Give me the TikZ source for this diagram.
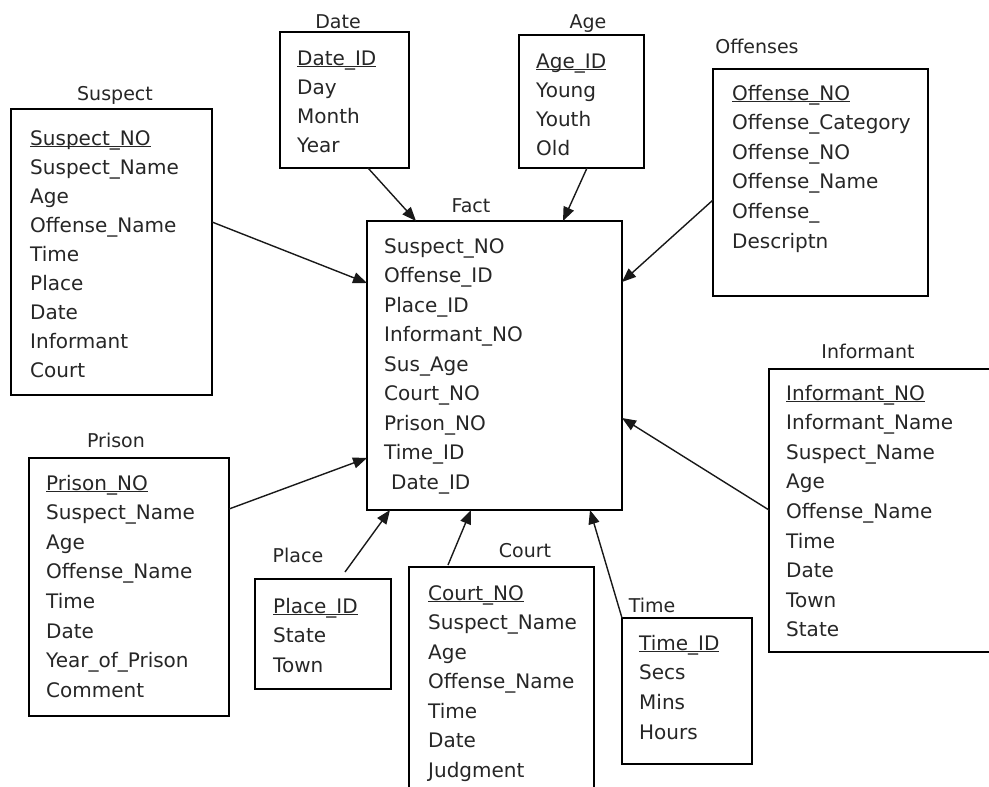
\documentclass[tikz,border=0pt]{standalone}
\usepackage{fontspec}
\setmainfont{DejaVu Sans}
\usetikzlibrary{arrows.meta,calc}
\newcommand\keyfield[1]{\setbox0\hbox{#1}\rlap{\rule[-2.2pt]{\wd0}{1.2pt}}\box0}
\newcommand\fieldlist[5]{%
  \foreach \t [count=\i from 0] in {#5}
    \node[fieldtext] (#1-\i) at (#2,{#3+\i*#4}) {\t};}
\tikzset{
  entitybox/.style={draw=black, line width=1.4pt, inner sep=0pt, outer sep=0pt, anchor=north west},
  fieldtext/.style={anchor=base west, inner sep=0pt, text=black!85, font=\fontsize{20}{24}\selectfont},
  titletext/.style={anchor=base, inner sep=0pt, text=black!85, font=\fontsize{19}{23}\selectfont},
  link/.style={draw=black!90, line width=1.4pt, -{Triangle[length=14pt,width=11pt]}}
}
\begin{document}
\begin{tikzpicture}[x=1pt,y=-1pt]
\useasboundingbox (0,0) rectangle (989,787);
\clip (0,0) rectangle (989,787);
\fill[white] (0,0) rectangle (989,787);

% boxes
\node[entitybox, minimum width=201pt, minimum height=286pt] (suspect) at (11,109) {};
\node[entitybox, minimum width=129pt, minimum height=136pt] (date) at (280,32) {};
\node[entitybox, minimum width=125pt, minimum height=133pt] (age) at (519,35) {};
\node[entitybox, minimum width=255pt, minimum height=289pt] (fact) at (367,221) {};
\node[entitybox, minimum width=215pt, minimum height=227pt] (offenses) at (713,69) {};
\node[entitybox, minimum width=230pt, minimum height=283pt] (informant) at (769,369) {};
\node[entitybox, minimum width=200pt, minimum height=258pt] (prison) at (29,458) {};
\node[entitybox, minimum width=136pt, minimum height=110pt] (place) at (255,579) {};
\node[entitybox, minimum width=185pt, minimum height=240pt] (court) at (409,567) {};
\node[entitybox, minimum width=130pt, minimum height=146pt] (time) at (622,618) {};

% titles
\node[titletext] (suspect-title) at (115,100) {Suspect};
\node[titletext] (date-title) at (338,28) {Date};
\node[titletext] (age-title) at (588,28) {Age};
\node[titletext] (fact-title) at (471,212) {Fact};
\node[titletext] (offenses-title) at (757,53) {Offenses};
\node[titletext] (informant-title) at (868,358) {Informant};
\node[titletext] (prison-title) at (116,447) {Prison};
\node[titletext] (place-title) at (298,562) {Place};
\node[titletext] (court-title) at (525,557) {Court};
\node[titletext] (time-title) at (652,612) {Time};

% fields
\fieldlist{sf}{30}{145}{29.1}{\keyfield{Suspect\_NO},Suspect\_Name,Age,Offense\_Name,Time,Place,Date,Informant,Court}
\fieldlist{df}{297}{65}{29.3}{\keyfield{Date\_ID},Day,Month,Year}
\fieldlist{af}{536}{68}{29.3}{\keyfield{Age\_ID},Young,Youth,Old}
\fieldlist{ff}{384}{253}{29.5}{Suspect\_NO,Offense\_ID,Place\_ID,Informant\_NO,Sus\_Age,Court\_NO,Prison\_NO,Time\_ID,\hspace{7pt}Date\_ID}
\fieldlist{of}{732}{100}{29.6}{\keyfield{Offense\_NO},Offense\_Category,Offense\_NO,Offense\_Name,Offense\_,Descriptn}
\fieldlist{if}{786}{400}{29.6}{\keyfield{Informant\_NO},Informant\_Name,Suspect\_Name,Age,Offense\_Name,Time,Date,Town,State}
\fieldlist{pf}{46}{490}{29.6}{\keyfield{Prison\_NO},Suspect\_Name,Age,Offense\_Name,Time,Date,Year\_of\_Prison,Comment}
\fieldlist{lf}{273}{613}{29.5}{\keyfield{Place\_ID},State,Town}
\fieldlist{cf}{428}{600}{29.5}{\keyfield{Court\_NO},Suspect\_Name,Age,Offense\_Name,Time,Date,Judgment}
\fieldlist{tf}{639}{650}{29.7}{\keyfield{Time\_ID},Secs,Mins,Hours}

% connectors
\draw[link] ($(suspect.north east)+(0,113)$) -- ($(fact.north west)+(0,62)$);
\draw[link] ($(date.south west)+(88,0)$) -- ($(fact.north west)+(49,0)$);
\draw[link] ($(age.south west)+(68,0)$) -- ($(fact.north west)+(196,0)$);
\draw[link] ($(offenses.north west)+(0,131)$) -- ($(fact.north east)+(0,61)$);
\draw[link] ($(informant.north west)+(0,141)$) -- ($(fact.north east)+(0,197)$);
\draw[link] ($(prison.north east)+(0,51)$) -- ($(fact.north west)+(0,237)$);
\draw[link] ($(place.north west)+(90,-7)$) -- ($(fact.south west)+(23,0)$);
\draw[link] ($(court.north west)+(39,-2)$) -- ($(fact.south west)+(104,0)$);
\draw[link] (time.north west) -- ($(fact.south west)+(223,0)$);
\end{tikzpicture}
\end{document}
